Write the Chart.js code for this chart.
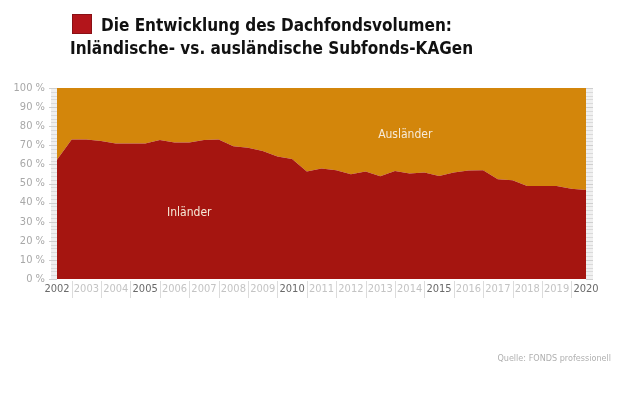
<!DOCTYPE html>
<html>
<head>
<meta charset="utf-8">
<script src="https://cdn.jsdelivr.net/npm/chart.js@4"></script>
<style>
  html, body { margin: 0; padding: 0; background: #fff; }
  #wrap { position: relative; width: 620px; height: 413px; }
  #chart { position: absolute; left: 0; top: 0; }
  .title {
    position: absolute; left: 70px; top: 14px;
    font-family: 'DejaVu Sans Condensed', 'DejaVu Sans', sans-serif; font-weight: bold;
    font-size: 17px; line-height: 23px; color: #111; white-space: nowrap;
  }
  .title .sq {
    display: inline-block; width: 18px; height: 18px; background: #b3151b;
    border: 1px solid #8a1015; vertical-align: -3px; margin-right: 9px; margin-left: 2px;
  }
  .source {
    position: absolute; right: 9px; top: 353px;
    font-family: 'Liberation Sans Narrow', 'DejaVu Sans Condensed', sans-serif;
    font-size: 9px; color: #b0b0b0;
  }
</style>
</head>
<body>
<div id="wrap">
  <canvas id="chart" width="620" height="413"></canvas>
  <div class="title"><span class="sq"></span>Die Entwicklung des Dachfondsvolumen:<br>Inländische- vs. ausländische Subfonds-KAGen</div>
  <div class="source">Quelle: FONDS professionell</div>
</div>
<script>
// Anteil inländischer Subfonds-KAGen am Dachfondsvolumen (Halbjahreswerte, in %)
const periods = [
  2002, 2002.5, 2003, 2003.5, 2004, 2004.5, 2005, 2005.5, 2006, 2006.5,
  2007, 2007.5, 2008, 2008.5, 2009, 2009.5, 2010, 2010.5, 2011, 2011.5,
  2012, 2012.5, 2013, 2013.5, 2014, 2014.5, 2015, 2015.5, 2016, 2016.5,
  2017, 2017.5, 2018, 2018.5, 2019, 2019.5, 2020
];
const inlaender = [
  62.5, 73.0, 73.0, 72.3, 71.0, 71.0, 71.0, 72.8, 71.5, 71.5,
  72.8, 73.0, 69.5, 68.7, 67.0, 64.2, 62.8, 56.3, 57.8, 56.9,
  54.8, 56.3, 53.8, 56.6, 55.2, 55.7, 53.9, 55.7, 56.8, 56.9,
  52.2, 51.7, 48.7, 48.7, 48.7, 47.3, 46.6
];
const highlightYears = ['2002', '2005', '2010', '2015', '2020'];
const yTicks = [0, 10, 20, 30, 40, 50, 60, 70, 80, 90, 100];
// area labels: [text, period, value]
const areaLabels = [
  ['Ausländer', 2013.85, 75.5],
  ['Inländer', 2006.5, 34.5]
];

const colors = {
  red: '#a51510',
  orange: '#d3860b',
  tickText: '#a8a8a8',
  tickDark: '#6a6a6a',
  tickLight: '#c4c4c4',
  sep: '#dcdcdc',
  strip: '#f0f0f0',
  stripLine: '#dadada'
};
const narrow = "'Liberation Sans Narrow', 'DejaVu Sans Condensed', sans-serif";

// category labels: year at full years, empty at half years
const xLabels = periods.map(p => (p % 1 === 0 ? String(p) : ''));
const idx = (p) => (p - periods[0]) * 2;

const decor = {
  id: 'decor',
  beforeDatasetsDraw(chart) {
    const { ctx, chartArea: a, scales: { x, y } } = chart;
    ctx.save();
    // ruler strips beside the plot
    ctx.fillStyle = colors.strip;
    ctx.fillRect(a.left - 6, a.top, 6, a.bottom - a.top);
    ctx.fillRect(a.right, a.top, 7, a.bottom - a.top);
    ctx.lineWidth = 1;
    for (let v = 0; v <= 100; v += 2) {
      const py = Math.round(y.getPixelForValue(v)) + 0.5;
      const major = v % 10 === 0;
      ctx.strokeStyle = major ? '#cfcfcf' : colors.stripLine;
      ctx.beginPath();
      ctx.moveTo(a.left - (major ? 8 : 6), py);
      ctx.lineTo(a.left, py);
      ctx.moveTo(a.right, py);
      ctx.lineTo(a.right + 7, py);
      ctx.stroke();
    }
    // separators between the year labels
    ctx.strokeStyle = colors.sep;
    periods.forEach((p, i) => {
      if (p % 1 === 0) return;
      const px = Math.round(x.getPixelForValue(i)) + 0.5;
      ctx.beginPath();
      ctx.moveTo(px, a.bottom + 2);
      ctx.lineTo(px, a.bottom + 19);
      ctx.stroke();
    });
    ctx.restore();
  },
  afterDatasetsDraw(chart) {
    const { ctx, scales: { x, y } } = chart;
    ctx.save();
    ctx.font = '12px ' + narrow;
    ctx.fillStyle = '#f6ead8';
    ctx.textAlign = 'center';
    ctx.textBaseline = 'middle';
    areaLabels.forEach(([t, p, v]) => {
      ctx.fillText(t, x.getPixelForValue(idx(p)), y.getPixelForValue(v));
    });
    ctx.restore();
  }
};

new Chart(document.getElementById('chart'), {
  type: 'line',
  data: {
    labels: xLabels,
    datasets: [
      {
        label: 'Inländer',
        data: inlaender,
        borderWidth: 0,
        pointRadius: 0,
        backgroundColor: colors.red,
        fill: 'origin'
      },
      {
        label: 'Ausländer',
        data: inlaender,
        borderWidth: 0,
        pointRadius: 0,
        backgroundColor: colors.orange,
        fill: 'end'
      }
    ]
  },
  options: {
    responsive: false,
    animation: false,
    layout: { padding: { left: 14, right: 34, top: 88, bottom: 114 } },
    plugins: { legend: { display: false }, tooltip: { enabled: false } },
    scales: {
      x: {
        border: { display: false },
        grid: { display: false, drawTicks: false },
        afterFit: (s) => { s.height = 20; },
        ticks: {
          autoSkip: false,
          maxRotation: 0,
          padding: 4,
          font: { family: narrow, size: 11 },
          color: (c) => highlightYears.includes(xLabels[c.index]) ? colors.tickDark : colors.tickLight
        }
      },
      y: {
        min: yTicks[0],
        max: yTicks[yTicks.length - 1],
        border: { display: false },
        grid: { drawOnChartArea: false, drawTicks: false },
        afterFit: (s) => { s.width = 43; },
        afterBuildTicks: (s) => { s.ticks = yTicks.map(v => ({ value: v })); },
        ticks: {
          padding: 12,
          font: { family: narrow, size: 11 },
          color: colors.tickText,
          callback: (v) => v + ' %'
        }
      }
    }
  },
  plugins: [decor]
});
</script>
</body>
</html>
